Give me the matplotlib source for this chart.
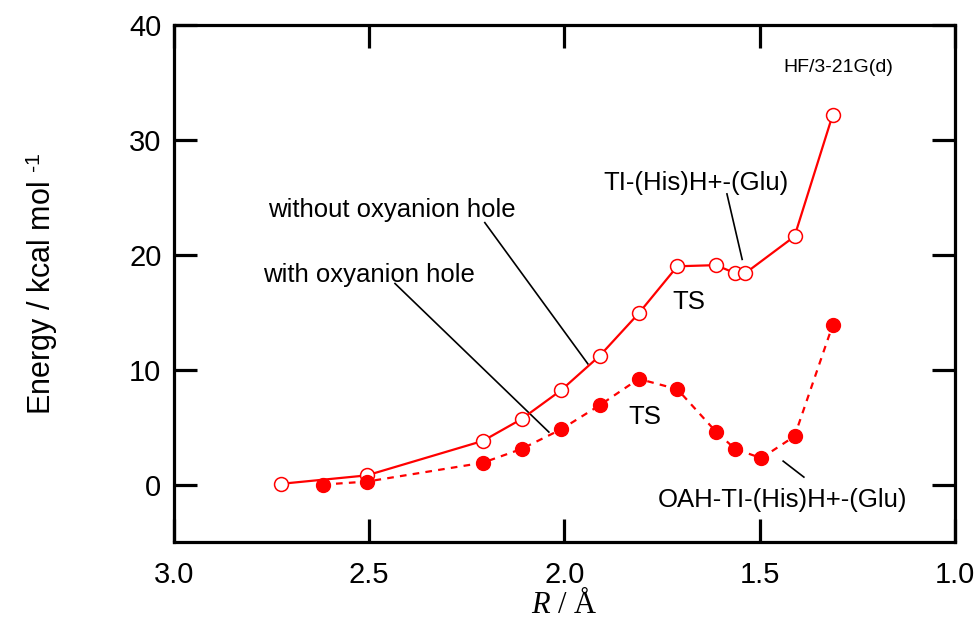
import matplotlib

matplotlib.use("Agg")
import matplotlib.pyplot as plt

# Energy profile along R, HF/3-21G(d)
r_without = [2.727, 2.506, 2.209, 2.110, 2.009, 1.91, 1.81, 1.711, 1.612, 1.563, 1.537, 1.411, 1.313]
e_without = [0.06, 0.8, 3.8, 5.7, 8.2, 11.2, 14.9, 19.0, 19.1, 18.4, 18.4, 21.6, 32.2]

r_with = [2.618, 2.506, 2.209, 2.110, 2.009, 1.91, 1.81, 1.711, 1.612, 1.563, 1.496, 1.411, 1.313]
e_with = [0.0, 0.26, 1.9, 3.1, 4.8, 6.9, 9.2, 8.3, 4.6, 3.1, 2.3, 4.2, 13.9]

x_ticks = [3.0, 2.5, 2.0, 1.5, 1.0]
y_ticks = [0, 10, 20, 30, 40]

plt.rcParams["font.family"] = ["Liberation Sans", "DejaVu Sans"]
plt.rcParams["mathtext.fontset"] = "custom"
plt.rcParams["mathtext.it"] = "Liberation Serif:italic"
plt.rcParams["mathtext.rm"] = "Liberation Sans"

fig = plt.figure(figsize=(9.74, 6.21), dpi=100)
ax = fig.add_axes([0.1786, 0.1272, 0.8019, 0.8325])

red = "#ff0000"
ax.plot(r_without, e_without, "-", color=red, lw=1.6, marker="o", ms=10,
        mfc="white", mec=red, mew=1.1, zorder=3)
ax.plot(r_with, e_with, color=red, lw=1.6, ls=(0, (3, 2.8)), marker="o", ms=10,
        mfc=red, mec=red, mew=1.0, zorder=3)

ax.set_xlim(3.0, 1.0)
ax.set_ylim(-5, 40)
ax.set_xticks(x_ticks)
ax.set_xticklabels([f"{t:.1f}" for t in x_ticks])
ax.set_yticks(y_ticks)

for s in ax.spines.values():
    s.set_linewidth(2.3)
ax.tick_params(direction="in", length=16.5, width=2.3, top=True, right=True,
               labelsize=21)
ax.tick_params(axis="x", pad=14)
ax.tick_params(axis="y", pad=9)

ax.set_ylabel("Energy / kcal mol $^{\\text{-1}}$", fontsize=22, labelpad=50)
ax.set_xlabel("$R$ / Å", fontsize=22, family="Liberation Serif", labelpad=0)

# annotations
fs = 18.5
ax.text(2.759, 23.26, "without oxyanion hole", fontsize=fs, va="baseline")
ax.plot([2.204, 1.940], [22.8, 10.5], color="black", lw=1.2)
ax.text(2.772, 17.65, "with oxyanion hole", fontsize=fs, va="baseline")
ax.plot([2.434, 2.040], [17.5, 4.57], color="black", lw=1.2)
ax.text(1.901, 25.6, "TI-(His)H+-(Glu)", fontsize=fs, va="baseline")
ax.plot([1.584, 1.545], [25.3, 19.6], color="black", lw=1.2)
ax.text(1.725, 15.26, "TS", fontsize=fs, va="baseline")
ax.text(1.837, 5.26, "TS", fontsize=fs, va="baseline")
ax.text(1.761, -1.96, "OAH-TI-(His)H+-(Glu)", fontsize=fs, va="baseline")
ax.plot([1.440, 1.387], [2.04, 0.65], color="black", lw=1.2)
ax.text(1.440, 35.87, "HF/3-21G(d)", fontsize=14, va="baseline")

fig.savefig("out.png", dpi=100)
